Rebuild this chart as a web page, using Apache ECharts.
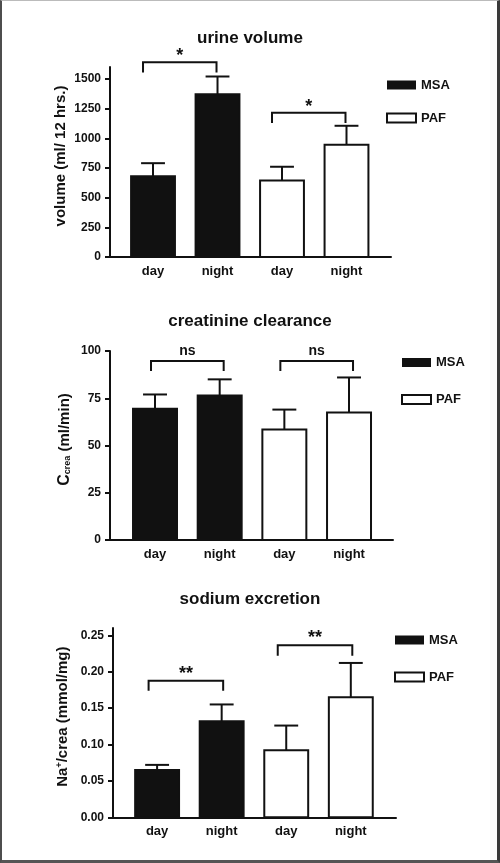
<!DOCTYPE html>
<html>
<head>
<meta charset="utf-8">
<script src="https://cdn.jsdelivr.net/npm/echarts@6/dist/echarts.min.js"></script>
<style>
  html, body { margin: 0; padding: 0; background: #fff; }
  #chart { position: absolute; left: 0; top: 0; width: 500px; height: 863px; }
  #frame { position: absolute; left: 0; top: 0; width: 500px; height: 863px; box-sizing: border-box;
           border-left: 2px solid #4d4d4d; border-right: 3px solid #3a3a3a; border-bottom: 3px solid #555; border-top: 1px solid #bbb;
           pointer-events: none; }
</style>
</head>
<body>
<div id="chart"></div>
<div id="frame"></div>
<script>
// ---- data ----
const categories = ['day', 'night', 'day', 'night'];
const groups = ['MSA', 'PAF'];

// urine volume (ml / 12 hrs.)
const urineMSA = [680, 1370];
const urineMSAsem = [110, 150];
const urinePAF = [645, 945];
const urinePAFsem = [115, 160];
const urineSig = [[0, 1, 1641, 1553, '*'], [2, 3, 1214, 1129, '*']];
const urineTicks = [0, 250, 500, 750, 1000, 1250, 1500];
const urineMax = 1600;

// creatinine clearance (ml/min)
const creaMSA = [69.5, 76.5];
const creaMSAsem = [7.5, 8.5];
const creaPAF = [58.5, 67.5];
const creaPAFsem = [10.5, 18.5];
const creaSig = [[0, 1, 94.7, 89.4, 'ns'], [2, 3, 94.7, 89.4, 'ns']];
const creaTicks = [0, 25, 50, 75, 100];
const creaMax = 100;

// sodium excretion (mmol/mg)
const naMSA = [0.065, 0.132];
const naMSAsem = [0.007, 0.023];
const naPAF = [0.092, 0.165];
const naPAFsem = [0.034, 0.047];
const naSig = [[0, 1, 0.1876, 0.1739, '**'], [2, 3, 0.2363, 0.222, '**']];
const naTicks = [0, 0.05, 0.10, 0.15, 0.20, 0.25];
const naMax = 0.26;

// ---- build ----
const FONT = '"Liberation Sans", Arial, sans-serif';
const INK = '#111';

function toPoints(startIdx, means, sems) {
  return means.map((m, k) => [startIdx + k, m, sems[k]]);
}

function barRenderer(fill) {
  return function (params, api) {
    const x = api.value(0), m = api.value(1), e = api.value(2);
    const base = api.coord([x, 0]);
    const top = api.coord([x, m]);
    const et = api.coord([x, m + e]);
    const unit = api.size([1, 0])[0];
    const bw = unit * 0.68, cw = unit * 0.37;
    return {
      type: 'group',
      children: [
        { type: 'rect', shape: { x: base[0] - bw / 2, y: top[1], width: bw, height: base[1] - top[1] },
          style: { fill: fill, stroke: INK, lineWidth: 2 } },
        { type: 'line', shape: { x1: top[0], y1: top[1], x2: et[0], y2: et[1] },
          style: { stroke: INK, lineWidth: 2 } },
        { type: 'line', shape: { x1: et[0] - cw / 2, y1: et[1], x2: et[0] + cw / 2, y2: et[1] },
          style: { stroke: INK, lineWidth: 2 } }
      ]
    };
  };
}

function sigRenderer(inL, inR, textLift, fontSize) {
  return function (params, api) {
    const a = api.value(0), b = api.value(1), yt = api.value(2), yl = api.value(3);
    const label = api.value(4);
    const pa = api.coord([a, yt]), pb = api.coord([b, yt]);
    const la = api.coord([a, yl]);
    const x1 = pa[0] + inL, x2 = pb[0] + inR;
    return {
      type: 'group',
      children: [
        { type: 'polyline', shape: { points: [[x1, la[1]], [x1, pa[1]], [x2, pa[1]], [x2, la[1]]] },
          style: { stroke: INK, lineWidth: 2, fill: null } },
        { type: 'text', x: (x1 + x2) / 2, y: pa[1] - textLift,
          style: { text: label, fill: INK, font: 'bold ' + fontSize + 'px ' + FONT, align: 'center', verticalAlign: 'middle' } }
      ]
    };
  };
}

const panels = [
  { title: 'urine volume', titleTop: 30, grid: { left: 110, width: 281, top: 67, height: 190 },
    xmin: -0.667, xmax: 3.69, ticks: urineTicks, ymax: urineMax, dec: 0,
    name: 'volume (ml/ 12 hrs.)', nameGap: 42, rich: {},
    msa: toPoints(0, urineMSA, urineMSAsem), paf: toPoints(2, urinePAF, urinePAFsem),
    sig: urineSig, inL: -10, inR: -1, lift: 6, sigFont: 18,
    legend: { left: 386, top: 78.5, itemGap: 20 } },
  { title: 'creatinine clearance', titleTop: 313, grid: { left: 110, width: 283, top: 351, height: 189 },
    xmin: -0.696, xmax: 3.68, ticks: creaTicks, ymax: creaMax, dec: 0,
    name: '{big|C}{sub|crea} (ml/min)', nameGap: 37,
    rich: { big: { fontSize: 16, fontWeight: 'bold', fontFamily: FONT, color: INK },
            sub: { fontSize: 9, fontWeight: 'bold', fontFamily: FONT, color: INK, padding: [6, 0, 0, 0] } },
    msa: toPoints(0, creaMSA, creaMSAsem), paf: toPoints(2, creaPAF, creaPAFsem),
    sig: creaSig, inL: -4, inR: 4, lift: 10, sigFont: 14,
    legend: { left: 401, top: 356, itemGap: 24 } },
  { title: 'sodium excretion', titleTop: 591, grid: { left: 113, width: 283, top: 628, height: 189.3 },
    xmin: -0.683, xmax: 3.70, ticks: naTicks, ymax: naMax, dec: 2,
    name: 'Na{sup|+}/crea (mmol/mg)', nameGap: 42,
    rich: { sup: { fontSize: 9, fontWeight: 'bold', fontFamily: FONT, color: INK, padding: [0, 0, 7, 0] } },
    msa: toPoints(0, naMSA, naMSAsem), paf: toPoints(2, naPAF, naPAFsem),
    sig: naSig, inL: -8.5, inR: 1.5, lift: 7, sigFont: 18,
    legend: { left: 394, top: 633.5, itemGap: 24 } }
];

const option = {
  animation: false,
  backgroundColor: '#fff',
  title: [], grid: [], xAxis: [], yAxis: [], legend: [], series: []
};

panels.forEach((p, i) => {
  option.title.push({ text: p.title, left: 'center', top: p.titleTop, padding: 0,
    textStyle: { fontFamily: FONT, fontWeight: 'bold', fontSize: 17, color: INK } });
  option.grid.push(Object.assign({ containLabel: false }, p.grid));
  option.xAxis.push({
    type: 'value', gridIndex: i, min: p.xmin, max: p.xmax,
    splitLine: { show: false },
    axisLine: { show: true, onZero: false, lineStyle: { color: INK, width: 2 } },
    axisTick: { show: false },
    axisLabel: { show: true, customValues: [0, 1, 2, 3], formatter: v => categories[Math.round(v)] || '',
      margin: 8, fontFamily: FONT, fontWeight: 'bold', fontSize: 13, color: INK }
  });
  option.yAxis.push({
    type: 'value', gridIndex: i, min: 0, max: p.ymax,
    splitLine: { show: false },
    axisLine: { show: true, onZero: false, lineStyle: { color: INK, width: 2 } },
    axisTick: { show: true, customValues: p.ticks, length: 5, lineStyle: { color: INK, width: 2 } },
    axisLabel: { customValues: p.ticks, margin: 9, fontFamily: FONT, fontWeight: 'bold', fontSize: 12, color: INK,
      formatter: v => Number(v).toFixed(p.dec) },
    name: p.name, nameLocation: 'middle', nameGap: p.nameGap, nameMoveOverlap: false,
    nameTextStyle: { fontFamily: FONT, fontWeight: 'bold', fontSize: 15, color: INK, rich: p.rich,
      padding: [0, 0, 0, 12] }
  });
  option.legend.push({
    orient: 'vertical', left: p.legend.left, top: p.legend.top, padding: 0,
    itemWidth: 29, itemHeight: 9, itemGap: p.legend.itemGap, selectedMode: false,
    textStyle: { fontFamily: FONT, fontWeight: 'bold', fontSize: 13, color: INK },
    data: [
      { name: groups[0], icon: 'rect', itemStyle: { color: INK, borderColor: INK, borderWidth: 0 } },
      { name: groups[1], icon: 'rect', itemStyle: { color: '#fff', borderColor: INK, borderWidth: 2 } }
    ]
  });
  option.series.push({
    type: 'custom', name: groups[0], xAxisIndex: i, yAxisIndex: i, clip: false,
    itemStyle: { color: INK }, data: p.msa, renderItem: barRenderer(INK)
  });
  option.series.push({
    type: 'custom', name: groups[1], xAxisIndex: i, yAxisIndex: i, clip: false,
    itemStyle: { color: '#fff', borderColor: INK, borderWidth: 2 }, data: p.paf, renderItem: barRenderer('#fff')
  });
  option.series.push({
    type: 'custom', name: 'sig' + i, xAxisIndex: i, yAxisIndex: i, clip: false,
    data: p.sig, renderItem: sigRenderer(p.inL, p.inR, p.lift, p.sigFont),
    dimensions: ['a', 'b', 'top', 'leg', { name: 'label', type: 'ordinal' }]
  });
});

const chart = echarts.init(document.getElementById('chart'), null, { renderer: 'canvas' });
chart.setOption(option);
</script>
</body>
</html>
